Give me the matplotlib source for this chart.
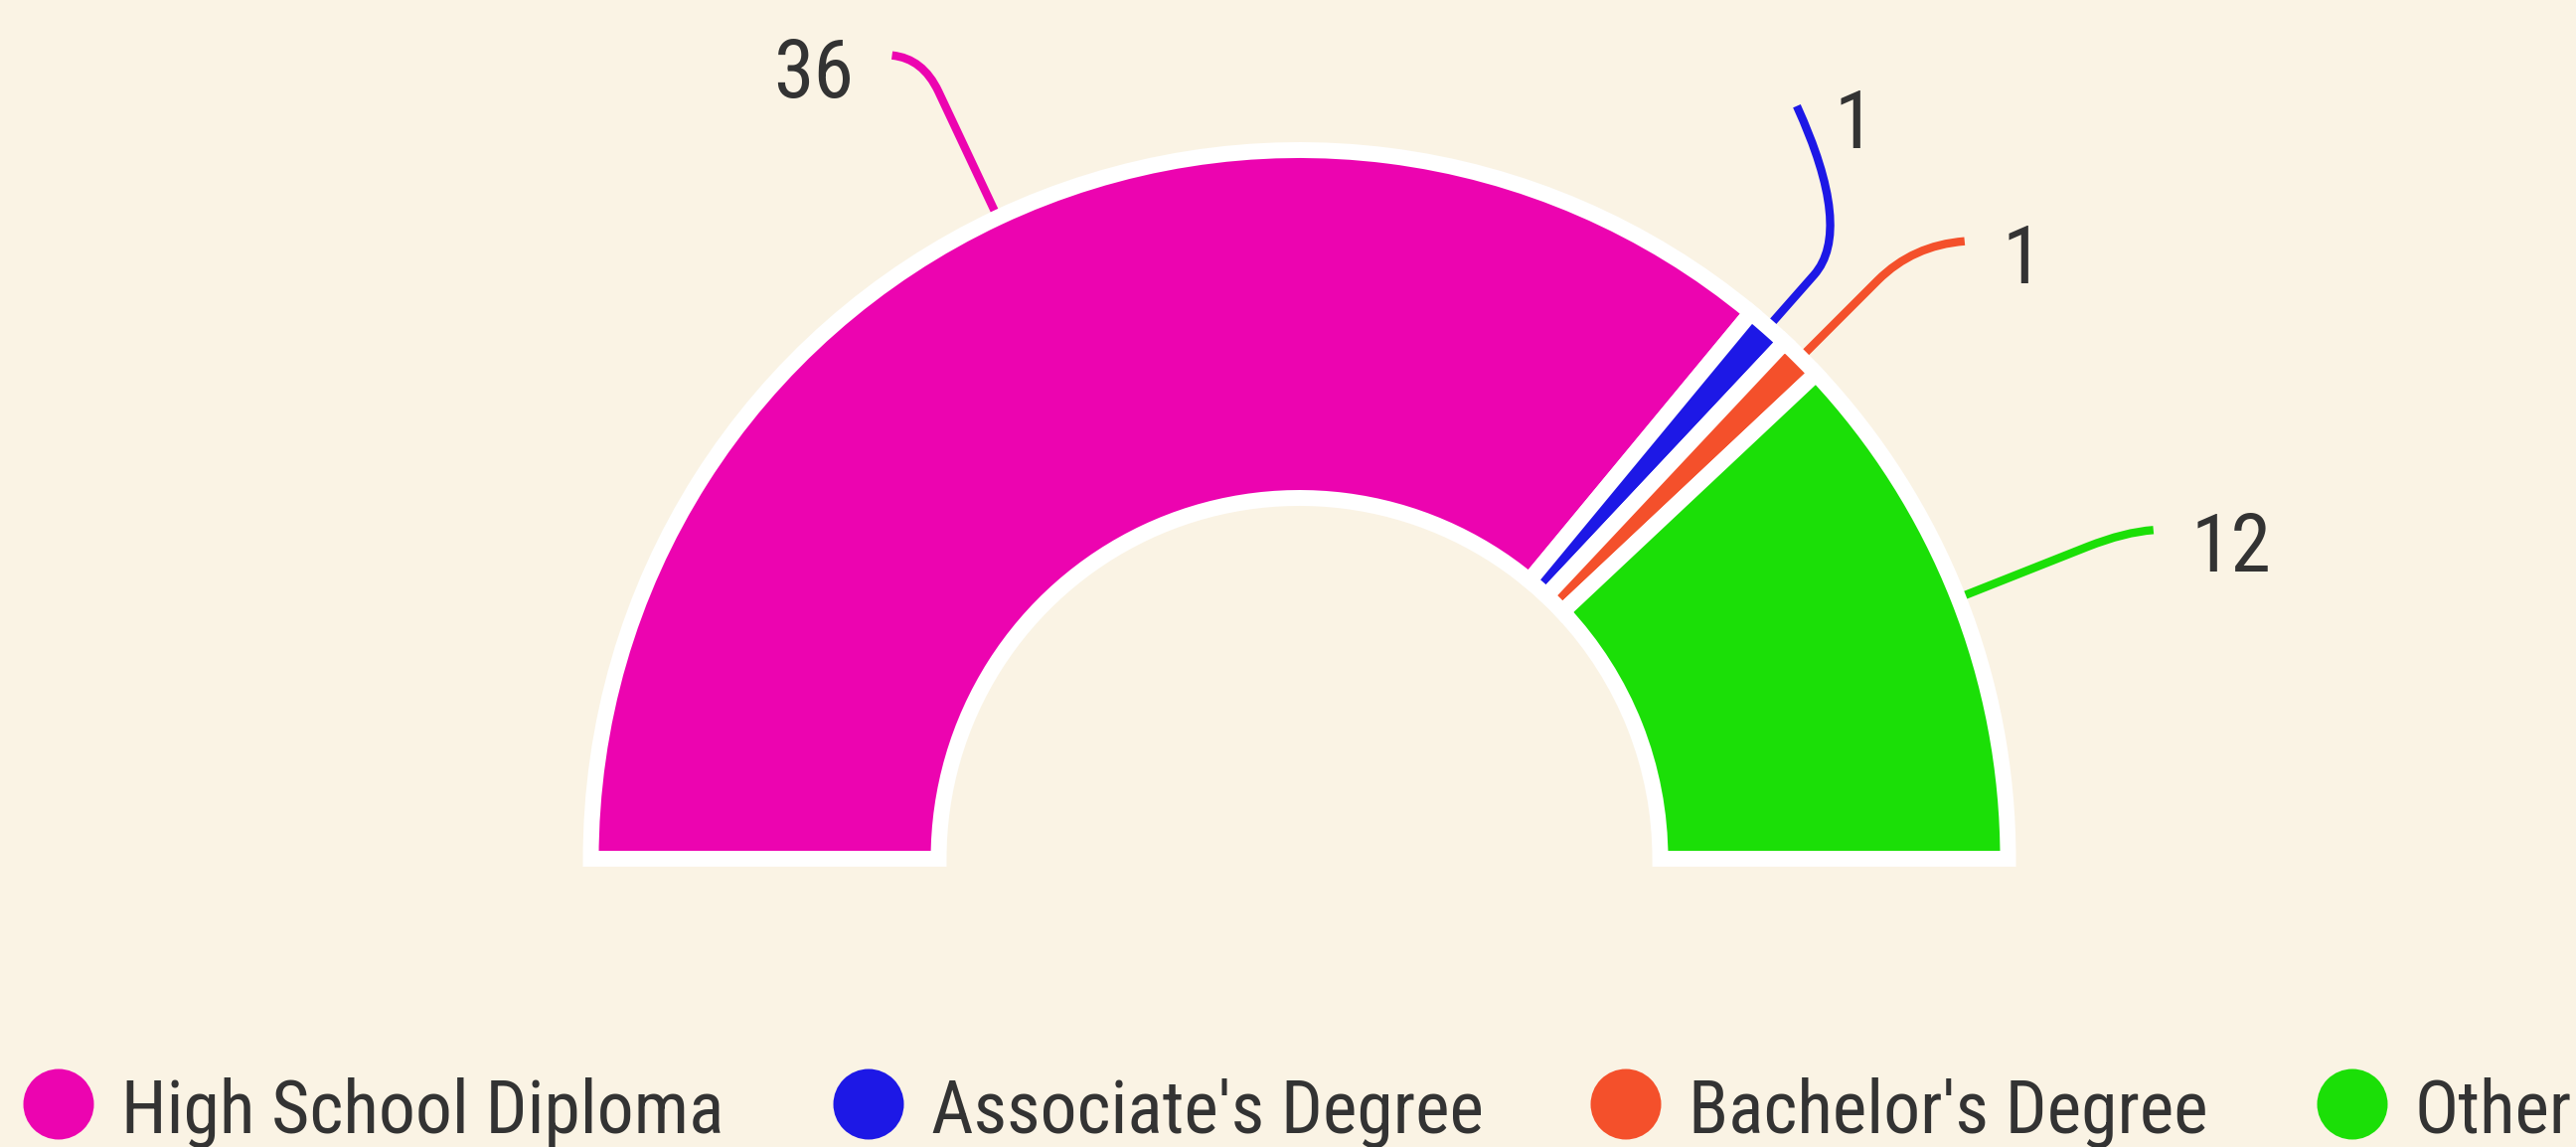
import matplotlib
matplotlib.use("Agg")
import matplotlib.pyplot as plt
from matplotlib.path import Path
from matplotlib.patches import PathPatch
import numpy as np

'''DATA'''
categories = ["High School Diploma", "Associate's Degree", "Bachelor's Degree", "Other"]
counts = [36, 1, 1, 12]
colors = ["#EC04B0", "#1D18E6", "#F4502B", "#1BDF07"]

'''STYLE'''
BG = "#FAF3E4"
TEXT = "#333333"
FONT = "Roboto Condensed"
W, H = 2592, 1154
cx, cy = 1307.5, 290
R, r_in = 713, 363

# leader line shapes: straight part, elbow distance, end offset from elbow, label side
lead_a = [140, 70, 110, 140]
lead_len = [177, 130, 160, 180]
lead_end = [(-31, 3), (-57, 125), (52, 4), (29, 2)]
label_side = [-1, 1, 1, 1]

# legend marker centres (pixels)
legend_x = [59, 874, 1636, 2367]

fig = plt.figure(figsize=(W / 100, H / 100), dpi=100, facecolor=BG)
ax = fig.add_axes([0, 0, 1, 1])
ax.set_facecolor(BG)

total = sum(counts)
wedges, _ = ax.pie(counts + [total], colors=colors + ["none"], startangle=180,
                   counterclock=False, radius=R, center=(cx, cy),
                   wedgeprops=dict(width=R - r_in, edgecolor="white",
                                   linewidth=11.5, joinstyle="miter"))
wedges[-1].set_visible(False)
for w in wedges:
    w.set_zorder(3)

ax.set_xlim(0, W)
ax.set_ylim(0, H)
ax.set_aspect("equal")
ax.axis("off")

# labels with smooth leader lines
cum = np.cumsum([0] + counts[:-1])
for i, v in enumerate(counts):
    theta = np.deg2rad(180 - 180 * (cum[i] + v / 2) / total)
    d = np.array([np.cos(theta), np.sin(theta)])
    p0 = np.array([cx, cy]) + R * d
    pa = p0 + lead_a[i] * d
    pc = p0 + lead_len[i] * d
    pe = pc + np.array(lead_end[i])
    path = Path([p0, pa, pc, pe], [Path.MOVETO, Path.LINETO, Path.CURVE3, Path.CURVE3])
    ax.add_patch(PathPatch(path, facecolor="none", edgecolor=colors[i], lw=6,
                           capstyle="butt", zorder=2))
    s = label_side[i]
    fig.text((pe[0] + 38 * s) / W, (pe[1] - 42) / H, str(v),
             ha="left" if s > 0 else "right", va="baseline",
             family=FONT, stretch="normal", fontsize=59, color=TEXT)

# legend
ax.scatter(legend_x, [43] * len(legend_x), s=(71 * 0.72) ** 2, c=colors,
           linewidths=0, zorder=3)
for x, name in zip(legend_x, categories):
    fig.text((x + 63) / W, 14 / H, name, ha="left", va="baseline",
             family=FONT, stretch="normal", fontsize=53, color=TEXT)

fig.savefig("out.png", dpi=100, facecolor=BG)
